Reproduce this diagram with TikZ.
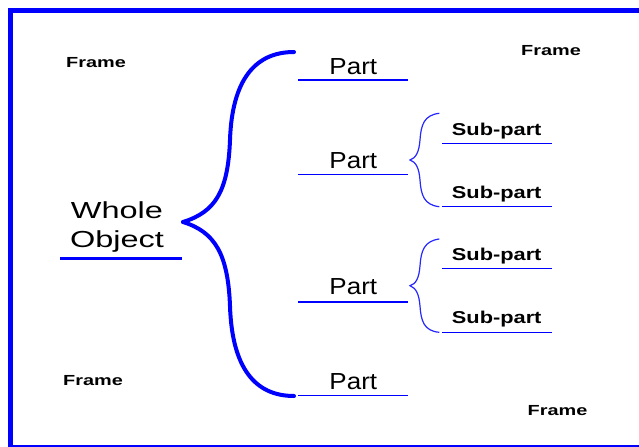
\documentclass[tikz,border=0pt]{standalone}
\usepackage{fontspec}
\usepackage{tikz}
\newfontfamily\wholefont[FakeStretch=1.4]{Liberation Sans}
\newfontfamily\partfont[FakeStretch=1.12]{Liberation Sans}
\newfontfamily\subfont[FakeStretch=1.27]{Liberation Sans Bold}
\newfontfamily\framefont[FakeStretch=1.36]{Liberation Sans Bold}
\tikzset{
	wholetext/.style={anchor=base, align=center, font=\wholefont\fontsize{16.5}{20.4}\selectfont},
	parttext/.style={anchor=base, font=\partfont\fontsize{16.5}{20}\selectfont},
	subtext/.style={anchor=base, font=\subfont\fontsize{12.2}{14}\selectfont},
	frametext/.style={anchor=base, font=\framefont\fontsize{10.4}{12}\selectfont},
	thinline/.style={line width=0.3mm, color=blue},
	bigbrace/.style={line width=1mm, color=blue, line cap=round},
	smallbrace/.style={line width=0.3mm, color=blue!85}
}

\begin{document}
\begin{tikzpicture}[x=0.025cm, y=-0.025cm]
		%%%%% START %%%%%
		\useasboundingbox (0, 0) rectangle (639, 447);
		\clip (0, 0) rectangle (639, 447);
		
		\draw[line width=1.25mm, color=blue] (10.5, 10.5) rectangle (650, 447.5);
		
		\node[frametext] (f1) at (96, 67.7) {Frame};
		\node[frametext] (f2) at (551, 55) {Frame};
		\node[frametext] (f3) at (93, 385.7) {Frame};
		\node[frametext] (f4) at (557.5, 415.7) {Frame};
		
		\node[wholetext] (whole) at (117, 247) {Whole\\Object};
		\draw[line width=0.75mm, color=blue] (60, 258) -- (181.7, 258);
		
		\node[parttext] (p1) at (353.3, 74) {Part};
		\node[parttext] (p2) at (353.3, 168.3) {Part};
		\node[parttext] (p3) at (353.3, 294) {Part};
		\node[parttext] (p4) at (353.3, 389.3) {Part};
		\draw[thinline] (298, 80) -- (408.3, 80);
		\draw[thinline] (298, 174.3) -- (408.3, 174.3);
		\draw[thinline] (298, 302) -- (408.3, 302);
		\draw[thinline] (298, 395.7) -- (408.3, 395.7);
		
		\node[subtext] (s1) at (496.7, 135.7) {Sub-part};
		\node[subtext] (s2) at (496.7, 198.3) {Sub-part};
		\node[subtext] (s3) at (496.7, 260.7) {Sub-part};
		\node[subtext] (s4) at (496.7, 323.3) {Sub-part};
		\draw[thinline] (442.3, 143.3) -- (551.7, 143.3);
		\draw[thinline] (442.3, 206.3) -- (551.7, 206.3);
		\draw[thinline] (442.3, 268.3) -- (551.7, 268.3);
		\draw[thinline] (442.3, 332.3) -- (551.7, 332.3);
		
		% brace from the whole to its parts
		\coordinate (tip) at (183, 222);
		\coordinate (top) at (294, 52);
		\coordinate (bot) at (294, 396);
		\draw[bigbrace] (tip) .. controls (215, 212) and (228, 192) .. (230, 140)
			.. controls (232, 80) and (255, 52) .. (top);
		\draw[bigbrace] (tip) .. controls (215, 232) and (228, 254) .. (230, 306)
			.. controls (232, 368) and (255, 396) .. (bot);
		
		% braces from the parts to their sub-parts
		\coordinate (t2) at (410, 160);
		\coordinate (a2) at (439.3, 113.3);
		\coordinate (b2) at (439.3, 206.7);
		\draw[smallbrace] (a2) .. controls (424, 115) and (421, 125) .. (420, 140)
			.. controls (419, 152) and (416, 158) .. (t2)
			.. controls (416, 162) and (419, 168) .. (420, 180)
			.. controls (421, 195) and (424, 205) .. (b2);
		\coordinate (t3) at (410, 285.7);
		\coordinate (a3) at (439.3, 239);
		\coordinate (b3) at (439.3, 332.3);
		\draw[smallbrace] (a3) .. controls (424, 241) and (421, 251) .. (420, 266)
			.. controls (419, 278) and (416, 284) .. (t3)
			.. controls (416, 288) and (419, 294) .. (420, 306)
			.. controls (421, 321) and (424, 331) .. (b3);
		%%%%% END %%%%%
\end{tikzpicture}
\end{document}
